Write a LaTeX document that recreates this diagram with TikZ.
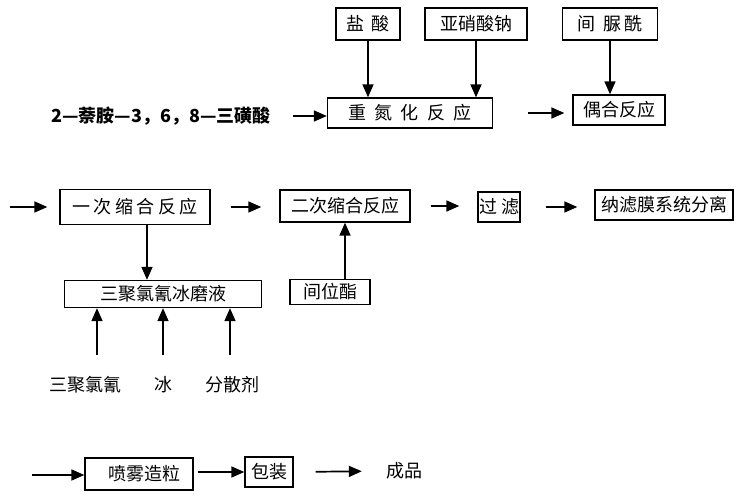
\documentclass[tikz,border=0pt]{standalone}
\usepackage{fontspec}
\usetikzlibrary{arrows.meta}
\setmainfont{Liberation Serif}
\newfontfamily\cjk{Noto Sans CJK SC}
\newfontfamily\cjkw[LetterSpace=20]{Noto Sans CJK SC}
\newfontfamily\cjkww[LetterSpace=45]{Noto Sans CJK SC}
\begin{document}
\begin{tikzpicture}[x=1pt,y=-1pt,
  box/.style={draw,line width=1.4pt,inner sep=0pt,font=\cjk\fontsize{18}{20}\selectfont},
  lbl/.style={inner sep=0pt,font=\cjk\fontsize{18}{20}\selectfont},
  arr/.style={line width=1.7pt,-{Triangle[length=13pt,width=11pt]}}]
\useasboundingbox (0,0) rectangle (741,500);
% row 1
\node[box,minimum width=64,minimum height=32] (yan) at (368,24) {盐\hspace{8pt}酸};
\node[box,minimum width=102,minimum height=32] (yxsn) at (476,24) {亚硝酸钠};
\node[box,minimum width=95,minimum height=32] (jnx) at (610,24) {间\hspace{8pt}脲\hspace{4pt}酰};
\node[box,minimum width=165,minimum height=30,font=\cjkww\fontsize{18}{20}\selectfont] (chong) at (410,113) {重氮化反应};
\node[box,minimum width=92,minimum height=30] (ouhe) at (619,110) {偶合反应};
\node[lbl,font=\cjk\fontsize{18}{20}\selectfont\bfseries] (start) at (161,116) {2—萘胺—3，6，8—三磺酸};
\coordinate (s1) at (293,116);
\draw[arr] (s1) -- (s1 -| chong.west);
\draw[arr] (yan.south) -- (yan.south |- chong.north);
\draw[arr] (yxsn.south) -- (yxsn.south |- chong.north);
\draw[arr] (jnx.south) -- (jnx.south |- ouhe.north);
\draw[arr,shorten <=35pt,shorten >=8pt] (chong.east) -- (chong.east -| ouhe.west);
% row 2
\coordinate (r2) at (10,207);
\node[box,minimum width=150,minimum height=35,font=\cjkw\fontsize{18}{20}\selectfont] (yici) at (135,207) {一次缩合反应};
\node[box,minimum width=130,minimum height=32] (erci) at (345,206) {二次缩合反应};
\node[box,minimum width=42,minimum height=30] (guolv) at (499,207) {过\hspace{4pt}滤};
\node[box,minimum width=138,minimum height=30] (nalv) at (664,205) {纳滤膜系统分离};
\node[box,minimum width=197,minimum height=27] (sanju) at (163,294) {三聚氯氰冰磨液};
\node[box,minimum width=80,minimum height=25] (jianwei) at (330,292) {间位酯};
\draw[arr,shorten >=12pt] (r2) -- (yici.west);
\draw[arr,shorten <=20pt,shorten >=18pt] (yici.east) -- (yici.east -| erci.west);
\draw[arr,shorten <=20pt,shorten >=18pt] (erci.east) -- (erci.east -| guolv.west);
\draw[arr,shorten <=25pt,shorten >=17pt] (guolv.east) -- (guolv.east -| nalv.west);
\draw[arr] (yici.south -| 147,0) -- (sanju.north -| 147,0);
\draw[arr] (jianwei.north -| 345,0) -- (erci.south -| 345,0);
% inputs
\coordinate (i1) at (97,355);
\coordinate (i2) at (163,355);
\coordinate (i3) at (230,355);
\node[lbl] (l1) at (85,385) {三聚氯氰};
\node[lbl] (l2) at (163,385) {冰};
\node[lbl] (l3) at (232,385) {分散剂};
\draw[arr] (i1) -- (i1 |- sanju.south);
\draw[arr] (i2) -- (i2 |- sanju.south);
\draw[arr] (i3) -- (i3 |- sanju.south);
% row 3
\coordinate (r3) at (32,475);
\node[box,minimum width=108,minimum height=32] (penwu) at (139,474) {\hspace{10pt}喷雾造粒};
\node[box,minimum width=48,minimum height=30] (bao) at (269,472) {包装};
\node[lbl] (cp) at (404,471) {成品};
\draw[arr] (r3) -- (r3 -| penwu.west);
\draw[arr,shorten <=4pt] (penwu.east |- bao.west) -- (bao.west);
\draw[arr,shorten <=22pt,shorten >=24pt] (bao.east) -- (cp.west);
\end{tikzpicture}
\end{document}
